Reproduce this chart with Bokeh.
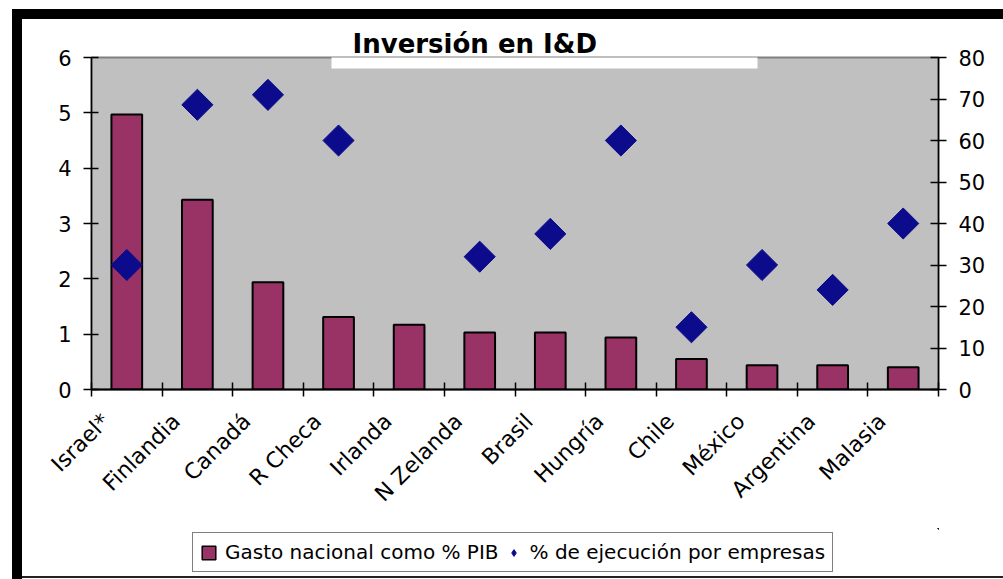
import numpy as np
from math import pi
from bokeh.plotting import figure
from bokeh.layouts import column
from bokeh.models import (Range1d, LinearAxis, FixedTicker, ColumnDataSource, BoxAnnotation,
                          Legend, LegendItem, CustomJSTickFormatter, Label)
from bokeh.embed import file_html
from bokeh.resources import INLINE

# ---------------- data ----------------
paises = ["Israel*", "Finlandia", "Canadá", "R Checa", "Irlanda", "N Zelanda",
          "Brasil", "Hungría", "Chile", "México", "Argentina", "Malasia"]
gasto_pib = [4.97, 3.43, 1.94, 1.31, 1.17, 1.03, 1.03, 0.94, 0.55, 0.44, 0.44, 0.40]
ejecucion_empresas = [30, 68.6, 71, 60, None, 32, 37.5, 60, 15, 30, 24, 40]
left_ticks = [0, 1, 2, 3, 4, 5, 6]
right_ticks = [0, 10, 20, 30, 40, 50, 60, 70, 80]
title_text = "Inversión en I&D"
legend_labels = ["Gasto nacional como % PIB", "% de ejecución por empresas"]

# ---------------- styles ----------------
W = 1003
H_MAIN, H_LEG = 528, 51
FONT = "DejaVu Sans"
BAR_FILL = "#993366"
DIA_FILL = "#0b0b8c"
n = len(paises)
xs = np.arange(n) + 0.5

src = ColumnDataSource(dict(
    x=xs,
    gasto=gasto_pib,
    emp=np.array(ejecucion_empresas, dtype=float),
))

# black picture frame (top/left bands) drawn as page background
main_css = ("linear-gradient(#000,#000) 12px 9px / 991px 10px no-repeat, "
            "linear-gradient(#000,#000) 12px 9px / 10px 600px no-repeat, #ffffff")
leg_css = ("linear-gradient(#000,#000) 12px 0px / 10px 60px no-repeat, "
           "linear-gradient(#222,#222) 12px 48px / 991px 2px no-repeat, #ffffff")

p = figure(width=W, height=H_MAIN, output_backend="svg", toolbar_location=None,
           x_range=Range1d(0, n), y_range=Range1d(left_ticks[0], left_ticks[-1]),
           min_border_left=91, min_border_right=65, min_border_top=57,
           min_border_bottom=H_MAIN - 389,
           background_fill_color="#c0c0c0", border_fill_color="white", border_fill_alpha=0,
           outline_line_color="#808080", outline_line_width=2,
           styles={"background": main_css}, margin=0)
p.grid.visible = False
p.title.visible = False
p.extra_y_ranges = {"pct": Range1d(right_ticks[0], right_ticks[-1])}

# left axis
ya = p.yaxis[0]
ya.ticker = FixedTicker(ticks=left_ticks)
ya.axis_line_color = "black"
ya.axis_line_width = 1.5
ya.major_tick_line_color = "black"
ya.major_tick_line_width = 1.5
ya.major_tick_in = 7
ya.major_tick_out = 8
ya.minor_tick_line_color = None
ya.major_label_text_font = FONT
ya.major_label_text_font_size = "21px"
ya.major_label_text_color = "black"
ya.major_label_standoff = 12

# right axis
ra = LinearAxis(y_range_name="pct", ticker=FixedTicker(ticks=right_ticks))
ra.axis_line_color = "black"
ra.axis_line_width = 1.5
ra.major_tick_line_color = "black"
ra.major_tick_line_width = 1.5
ra.major_tick_in = 8
ra.major_tick_out = 8
ra.minor_tick_line_color = None
ra.major_label_text_font = FONT
ra.major_label_text_font_size = "21px"
ra.major_label_text_color = "black"
ra.major_label_standoff = 12
p.add_layout(ra, "right")

# bottom axis: boundary ticks as minor ticks, category names as major labels
label_pos = [float(v) for v in (xs - 0.30)]
xa = p.xaxis[0]
xa.ticker = FixedTicker(ticks=label_pos, minor_ticks=list(range(n + 1)))
xa.formatter = CustomJSTickFormatter(args=dict(names=paises),
                                     code="return names[Math.floor(tick)];")
xa.major_label_orientation = pi / 4
xa.axis_line_color = "black"
xa.axis_line_width = 2
xa.major_tick_line_color = None
xa.major_tick_in = 0
xa.major_tick_out = 0
xa.minor_tick_line_color = "black"
xa.minor_tick_line_width = 1.5
xa.minor_tick_in = 7
xa.minor_tick_out = 7
xa.major_label_standoff = 21
xa.major_label_text_font = FONT
xa.major_label_text_font_size = "22px"
xa.major_label_text_color = "black"

# bars
p.vbar(x="x", top="gasto", bottom=0, width=0.435, source=src,
       fill_color=BAR_FILL, line_color="black", line_width=2)
# diamonds
p.scatter(x="x", y="emp", y_range_name="pct", source=src, marker="square",
          angle=pi / 4, size=22, fill_color=DIA_FILL, line_color=DIA_FILL)

# white title box (visible where it overlaps the plot area)
p.add_layout(BoxAnnotation(left=331, right=757, top=17, bottom=68,
                           left_units="canvas", right_units="canvas",
                           top_units="canvas", bottom_units="canvas",
                           fill_color="white", fill_alpha=1, line_color=None))

# title text
p.add_layout(Label(x=352, y=28, x_units="canvas", y_units="canvas", text=title_text,
                   text_font=FONT, text_font_style="bold", text_font_size="26px",
                   text_color="black", text_align="left", text_baseline="top"), "above")

# ---------------- legend strip ----------------
# same series drawn again, but with ranges that keep them out of view: only the legend shows
q = figure(width=W, height=H_LEG, output_backend="svg", toolbar_location=None,
           x_range=Range1d(-20, -19), y_range=Range1d(-20, -19),
           x_axis_type=None, y_axis_type=None,
           min_border_left=0, min_border_right=0, min_border_top=0, min_border_bottom=0,
           background_fill_alpha=0, border_fill_alpha=0, outline_line_color=None,
           styles={"background": leg_css}, margin=0)
q.grid.visible = False
q.title.visible = False
lb = q.vbar(x="x", top="gasto", bottom=0, width=0.435, source=src,
            fill_color=BAR_FILL, line_color="black", line_width=1.5)
ld = q.scatter(x="x", y="emp", source=src, marker="diamond",
               fill_color=DIA_FILL, line_color=DIA_FILL)
legend = Legend(items=[LegendItem(label=legend_labels[0], renderers=[lb]),
                       LegendItem(label=legend_labels[1], renderers=[ld])],
                location=(101, 7), orientation="horizontal",
                glyph_width=17, glyph_height=17, label_standoff=8, spacing=6,
                padding=7, margin=0,
                label_text_font=FONT, label_text_font_size="20px", label_text_color="black",
                border_line_color="black", border_line_width=1.5,
                background_fill_color="white", background_fill_alpha=1)
q.add_layout(legend, "center")

layout = column(p, q, spacing=0, margin=0)
open("out.html", "w").write(file_html(layout, INLINE))
